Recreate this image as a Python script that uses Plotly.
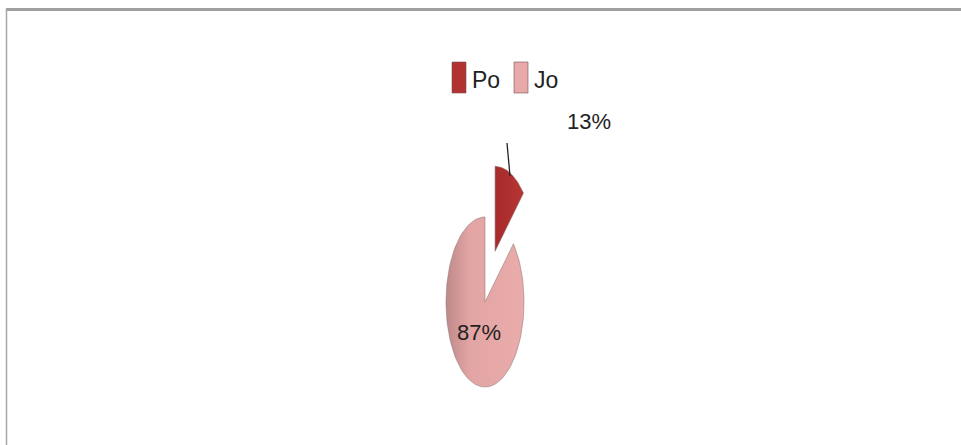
import numpy as np
import plotly.graph_objects as go

# ---- data ----
categories = ["Po", "Jo"]
values = [13, 87]
labels = ["13%", "87%"]
colors = ["#B23131", "#E8A9A9"]

W, H = 961, 445
# pie geometry (style / layout)
cx_px, cy_px = 485, 302          # pie centre in pixels
rx_px, ry_px = 39, 85            # radii in pixels (chart is stretched)
explode = [0.65, 0.0]

def px2x(px):
    return (px - cx_px) / rx_px

def px2y(py):
    return (cy_px - py) / ry_px

def pxp(px):
    return px / W

def pyp(py):
    return 1 - py / H

fig = go.Figure()

total = float(sum(values))
start = 0.0
for i, (cat, v) in enumerate(zip(categories, values)):
    f0 = start / total
    f1 = (start + v) / total
    start += v
    t = np.linspace(f0, f1, 120) * 2 * np.pi   # clockwise from top
    mid = (f0 + f1) / 2 * 2 * np.pi
    ox, oy = explode[i] * np.sin(mid), explode[i] * np.cos(mid)
    xs = np.concatenate([[ox], ox + np.sin(t), [ox]])
    ys = np.concatenate([[oy], oy + np.cos(t), [oy]])
    if cat == "Jo":
        grad = dict(type="horizontal",
                    colorscale=[[0, "#BE8989"], [0.3, "#E3A4A4"], [1, "#EAABAB"]])
    else:
        grad = dict(type="horizontal",
                    colorscale=[[0, "#A82A2A"], [1, "#B73434"]])
    fig.add_trace(go.Scatter(
        x=xs, y=ys, mode="lines", fill="toself",
        fillcolor=colors[i], fillgradient=grad,
        line=dict(color="rgba(140,120,120,0.55)", width=1),
        name=cat, showlegend=False, hoverinfo="name"))

# labels
fnt = "Liberation Sans Narrow, Liberation Sans, Arial, sans-serif"
fig.add_annotation(x=px2x(589), y=px2y(121), text=labels[0], showarrow=False,
                   font=dict(family=fnt, size=22, color="#222222"))
fig.add_annotation(x=px2x(479), y=px2y(332), text=labels[1], showarrow=False,
                   font=dict(family=fnt, size=22, color="#222222"))
# leader line for the outside label
fig.add_shape(type="line", x0=px2x(507), y0=px2y(143), x1=px2x(510), y1=px2y(176),
              line=dict(color="#222222", width=1.3))

# legend (drawn manually: tall squares)
leg_x = [452, 514]
for i, cat in enumerate(categories):
    x0 = leg_x[i]
    fig.add_shape(type="rect", xref="paper", yref="paper",
                  x0=pxp(x0), x1=pxp(x0 + 14), y0=pyp(93), y1=pyp(62),
                  fillcolor=colors[i], line=dict(color="rgba(120,80,80,0.6)", width=1))
    fig.add_annotation(xref="paper", yref="paper", x=pxp(x0 + 18), y=pyp(80),
                       xanchor="left", yanchor="middle", text=cat, showarrow=False,
                       font=dict(family=fnt, size=23, color="#222222"))

# frame (top and left edges)
fig.add_shape(type="line", xref="paper", yref="paper", x0=pxp(6), x1=1,
              y0=pyp(9.5), y1=pyp(9.5), line=dict(color="#A0A0A0", width=3))
fig.add_shape(type="line", xref="paper", yref="paper", x0=pxp(6.5), x1=pxp(6.5),
              y0=pyp(8), y1=0, line=dict(color="#A8A8A8", width=1.5))

fig.update_layout(
    width=W, height=H,
    margin=dict(l=0, r=0, t=0, b=0),
    paper_bgcolor="white", plot_bgcolor="white",
    xaxis=dict(range=[px2x(0), px2x(W)], visible=False, fixedrange=True),
    yaxis=dict(range=[px2y(H), px2y(0)], visible=False, fixedrange=True),
    showlegend=False,
)

fig.write_html("out.html")
